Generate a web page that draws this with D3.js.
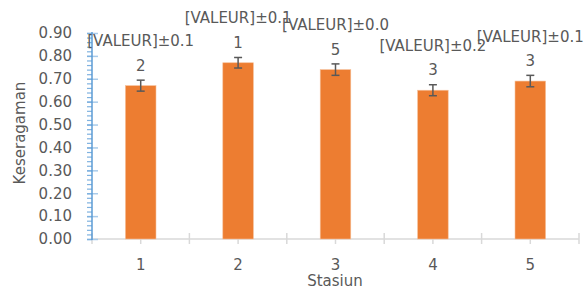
<!DOCTYPE html>
<html>
<head>
<meta charset="utf-8">
<script src="https://cdn.jsdelivr.net/npm/d3@7"></script>
<style>
  body { margin: 0; background: #fff; }
  text { font-family: "DejaVu Sans", sans-serif; fill: #595959; }
</style>
</head>
<body>
<script>
// data
var stations = ["1", "2", "3", "4", "5"];
var values = [0.67, 0.77, 0.74, 0.65, 0.69];
var errors = [0.024, 0.023, 0.025, 0.024, 0.025];
var labelTop = ["[VALEUR]\u00b10.1", "[VALEUR]\u00b10.1", "[VALEUR]\u00b10.0", "[VALEUR]\u00b10.2", "[VALEUR]\u00b10.1"];
var labelBottom = ["2", "1", "5", "3", "3"];
var yTicks = [0, 0.1, 0.2, 0.3, 0.4, 0.5, 0.6, 0.7, 0.8, 0.9];

var width = 587, height = 289;
var margin = {top: 33, right: 8, bottom: 50, left: 92};
var plotW = 579 - margin.left, plotH = 239 - margin.top;

var svg = d3.select("body").append("svg")
    .attr("width", width)
    .attr("height", height);

var x = d3.scaleBand().domain(stations).range([0, plotW]).padding(0);
var y = d3.scaleLinear().domain([0, 0.9]).range([plotH, 0]);
var barW = x.bandwidth() * 0.314;

var g = svg.append("g")
    .attr("transform", "translate(" + margin.left + "," + margin.top + ")");

// x axis: grey line, ticks at band edges crossing, small ticks under centres
var xAxisG = g.append("g").attr("transform", "translate(0," + plotH + ")");
xAxisG.append("line")
    .attr("x1", 0).attr("x2", plotW)
    .attr("stroke", "#d9d9d9").attr("stroke-width", 1.5);
var edges = stations.map(function(d) { return x(d); }).concat([plotW]);
xAxisG.selectAll(".edge").data(edges).enter().append("line")
    .attr("x1", function(d) { return d; }).attr("x2", function(d) { return d; })
    .attr("y1", -6).attr("y2", 5)
    .attr("stroke", "#d9d9d9").attr("stroke-width", 1.5);
xAxisG.call(d3.axisBottom(x).tickSize(5).tickSizeOuter(0))
    .call(function(s) { s.select(".domain").remove(); })
    .call(function(s) { s.selectAll(".tick line").attr("stroke", "#d9d9d9").attr("stroke-width", 1.5); })
    .selectAll("text")
      .attr("y", 31).attr("dy", 0)
      .style("font-size", "15px")
      .attr("fill", "#595959");

// y axis: blue line, minor ticks outside, major ticks crossing
g.append("g")
    .call(d3.axisLeft(y).tickValues(d3.range(0, 0.9001, 0.02)).tickSize(5).tickFormat(""))
    .call(function(s) { s.select(".domain").remove(); })
    .selectAll(".tick line").attr("stroke", "#7fb2e0").attr("stroke-width", 1.2);
g.append("g")
    .call(d3.axisRight(y).tickValues(yTicks).tickSize(6).tickFormat(""))
    .call(function(s) { s.select(".domain").remove(); })
    .selectAll(".tick line").attr("stroke", "#a9cbea").attr("stroke-width", 1.5);
var yAxisG = g.append("g")
    .call(d3.axisLeft(y).tickValues(yTicks).tickSize(5).tickPadding(15)
      .tickFormat(d3.format(".2f")))
    .call(function(s) { s.select(".domain").remove(); });
yAxisG.selectAll(".tick line").attr("stroke", "#7fb2e0").attr("stroke-width", 1.5);
yAxisG.selectAll("text").style("font-size", "15px").attr("fill", "#595959");
g.append("line")
    .attr("x1", 0).attr("x2", 0).attr("y1", -1).attr("y2", plotH + 1)
    .attr("stroke", "#5b9bd5").attr("stroke-width", 1.5);

// bars
g.selectAll(".bar").data(values).enter().append("rect")
    .attr("x", function(d, i) { return x(stations[i]) + (x.bandwidth() - barW) / 2; })
    .attr("y", function(d) { return y(d); })
    .attr("width", barW)
    .attr("height", function(d) { return plotH - y(d); })
    .attr("fill", "#ed7d31")
    .attr("stroke", "#f6c09a").attr("stroke-width", 0.6);

// error bars
var cx = function(i) { return x(stations[i]) + x.bandwidth() / 2; };
var eb = g.selectAll(".err").data(values).enter().append("g")
    .attr("stroke", "#595959").attr("stroke-width", 1.5);
eb.append("line")
    .attr("x1", function(d, i) { return cx(i); }).attr("x2", function(d, i) { return cx(i); })
    .attr("y1", function(d, i) { return y(d + errors[i]); })
    .attr("y2", function(d, i) { return y(d - errors[i]); });
eb.append("line")
    .attr("x1", function(d, i) { return cx(i) - 4; }).attr("x2", function(d, i) { return cx(i) + 4; })
    .attr("y1", function(d, i) { return y(d + errors[i]); })
    .attr("y2", function(d, i) { return y(d + errors[i]); });
eb.append("line")
    .attr("x1", function(d, i) { return cx(i) - 4; }).attr("x2", function(d, i) { return cx(i) + 4; })
    .attr("y1", function(d, i) { return y(d - errors[i]); })
    .attr("y2", function(d, i) { return y(d - errors[i]); });

// data labels (two lines, wrapped)
g.selectAll(".lab1").data(values).enter().append("text")
    .attr("x", function(d, i) { return cx(i); })
    .attr("y", function(d) { return y(d) - 39.5; })
    .attr("text-anchor", "middle")
    .style("font-size", "15px")
    .text(function(d, i) { return labelTop[i]; });
g.selectAll(".lab2").data(values).enter().append("text")
    .attr("x", function(d, i) { return cx(i); })
    .attr("y", function(d) { return y(d) - 15; })
    .attr("text-anchor", "middle")
    .style("font-size", "15px")
    .text(function(d, i) { return labelBottom[i]; });

// axis titles
svg.append("text")
    .attr("transform", "translate(25,133) rotate(-90)")
    .attr("text-anchor", "middle")
    .style("font-size", "15px")
    .text("Keseragaman");
svg.append("text")
    .attr("x", 335).attr("y", 286)
    .attr("text-anchor", "middle")
    .style("font-size", "15px")
    .text("Stasiun");
</script>
</body>
</html>
